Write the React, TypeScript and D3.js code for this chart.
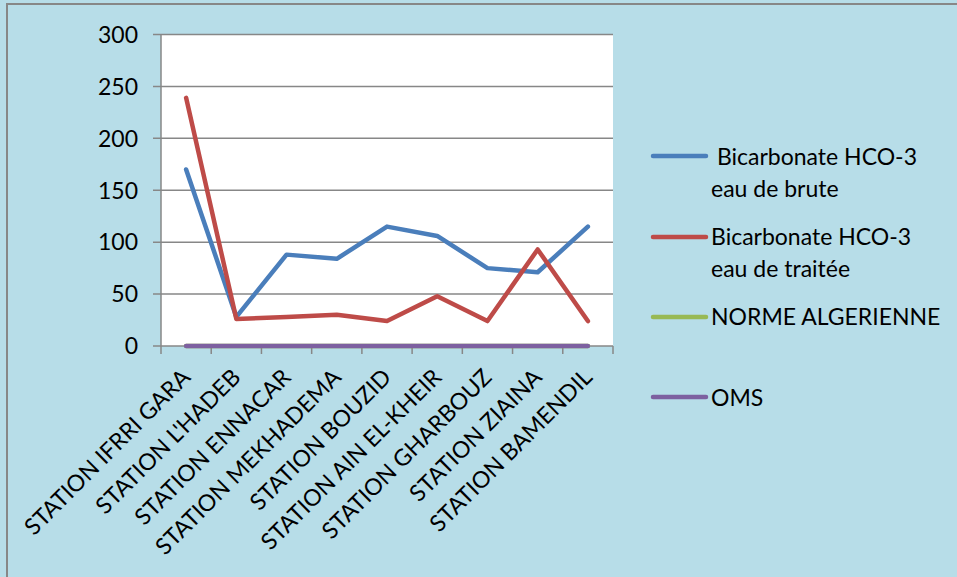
import React from "react";
import * as d3 from "d3";

const stations = [
  "STATION IFRRI GARA",
  "STATION L'HADEB",
  "STATION ENNACAR",
  "STATION MEKHADEMA",
  "STATION BOUZID",
  "STATION AIN EL-KHEIR",
  "STATION GHARBOUZ",
  "STATION ZIAINA",
  "STATION BAMENDIL",
];

const brute = [170, 28, 88, 84, 115, 106, 75, 71, 115];
const traitee = [239, 26, 28, 30, 24, 48, 24, 93, 24];
const normeAlgerienne = [0, 0, 0, 0, 0, 0, 0, 0, 0];
const oms = [0, 0, 0, 0, 0, 0, 0, 0, 0];

const yTicks = [0, 50, 100, 150, 200, 250, 300];

const seriesNames = [
  [" Bicarbonate HCO-3", "eau de brute"],
  ["Bicarbonate HCO-3", "eau de traitée"],
  ["NORME ALGERIENNE"],
  ["OMS"],
];

const W = 957;
const H = 577;
const plot = { left: 161, right: 613, top: 34.5, bottom: 346 };
const font = "Lato, 'Open Sans', sans-serif";

export default function App() {
  const x = d3
    .scaleBand<number>()
    .domain(d3.range(stations.length))
    .range([plot.left, plot.right]);
  const y = d3.scaleLinear().domain([0, 300]).range([plot.bottom, plot.top]);

  const line = d3
    .line<number>()
    .x((_, i) => (x(i) as number) + x.bandwidth() / 2)
    .y((d) => y(d));

  const series = [
    { values: brute, color: "#4a7ebb" },
    { values: traitee, color: "#be4b48" },
    { values: normeAlgerienne, color: "#98b954" },
    { values: oms, color: "#7d60a0" },
  ];

  const legendY = [156, 237, 317, 397];
  const legendBaselines = [
    [165, 197],
    [245, 277],
    [325],
    [406],
  ];

  const boundaries = d3.range(stations.length + 1).map((i) =>
    i < stations.length ? (x(i) as number) : plot.right
  );

  return (
    <svg
      width={W}
      height={H}
      style={{ position: "absolute", left: 0, top: 0, display: "block" }}
      fontFamily={font}
    >
      <rect x={0} y={0} width={W} height={H} fill="#b7dde8" />
      <rect
        x={7}
        y={4}
        width={W + 20}
        height={H + 20}
        fill="#b7dde8"
        stroke="#878787"
        strokeWidth={2}
      />
      <rect
        x={plot.left}
        y={plot.top}
        width={plot.right - plot.left}
        height={plot.bottom - plot.top}
        fill="#ffffff"
      />

      {/* horizontal gridlines and y ticks */}
      {yTicks.map((t) => (
        <g key={t}>
          <line
            x1={plot.left - 8}
            x2={plot.right}
            y1={y(t)}
            y2={y(t)}
            stroke="#878787"
            strokeWidth={1.5}
          />
          <text
            x={138}
            y={y(t)}
            dy="0.36em"
            textAnchor="end"
            fontSize={23}
            fill="#000"
          >
            {t}
          </text>
        </g>
      ))}

      {/* y axis */}
      <line
        x1={plot.left}
        x2={plot.left}
        y1={plot.top}
        y2={plot.bottom}
        stroke="#878787"
        strokeWidth={1.5}
      />

      {/* category tick marks */}
      {boundaries.map((bx, i) => (
        <line
          key={i}
          x1={bx}
          x2={bx}
          y1={plot.bottom}
          y2={plot.bottom + 8}
          stroke="#878787"
          strokeWidth={1.5}
        />
      ))}

      {/* category labels */}
      {stations.map((s, i) => {
        const cx = (x(i) as number) + x.bandwidth() / 2;
        return (
          <text
            key={s}
            transform={`translate(${cx},${plot.bottom + 27}) rotate(-45)`}
            textAnchor="end"
            dy="0.35em"
            fontSize={23}
            fill="#000"
          >
            {s}
          </text>
        );
      })}

      {/* series lines */}
      {series.map((s, i) => (
        <path
          key={i}
          d={line(s.values) || ""}
          fill="none"
          stroke={s.color}
          strokeWidth={4.5}
          strokeLinejoin="round"
          strokeLinecap="round"
        />
      ))}

      {/* legend */}
      {series.map((s, i) => (
        <g key={i}>
          <line
            x1={653}
            x2={706}
            y1={legendY[i]}
            y2={legendY[i]}
            stroke={s.color}
            strokeWidth={4.5}
            strokeLinecap="round"
          />
          {seriesNames[i].map((txt, j) => (
            <text
              key={j}
              x={711}
              y={legendBaselines[i][j]}
              fontSize={23}
              fill="#000"
              style={{ whiteSpace: "pre" }}
            >
              {txt}
            </text>
          ))}
        </g>
      ))}
    </svg>
  );
}
